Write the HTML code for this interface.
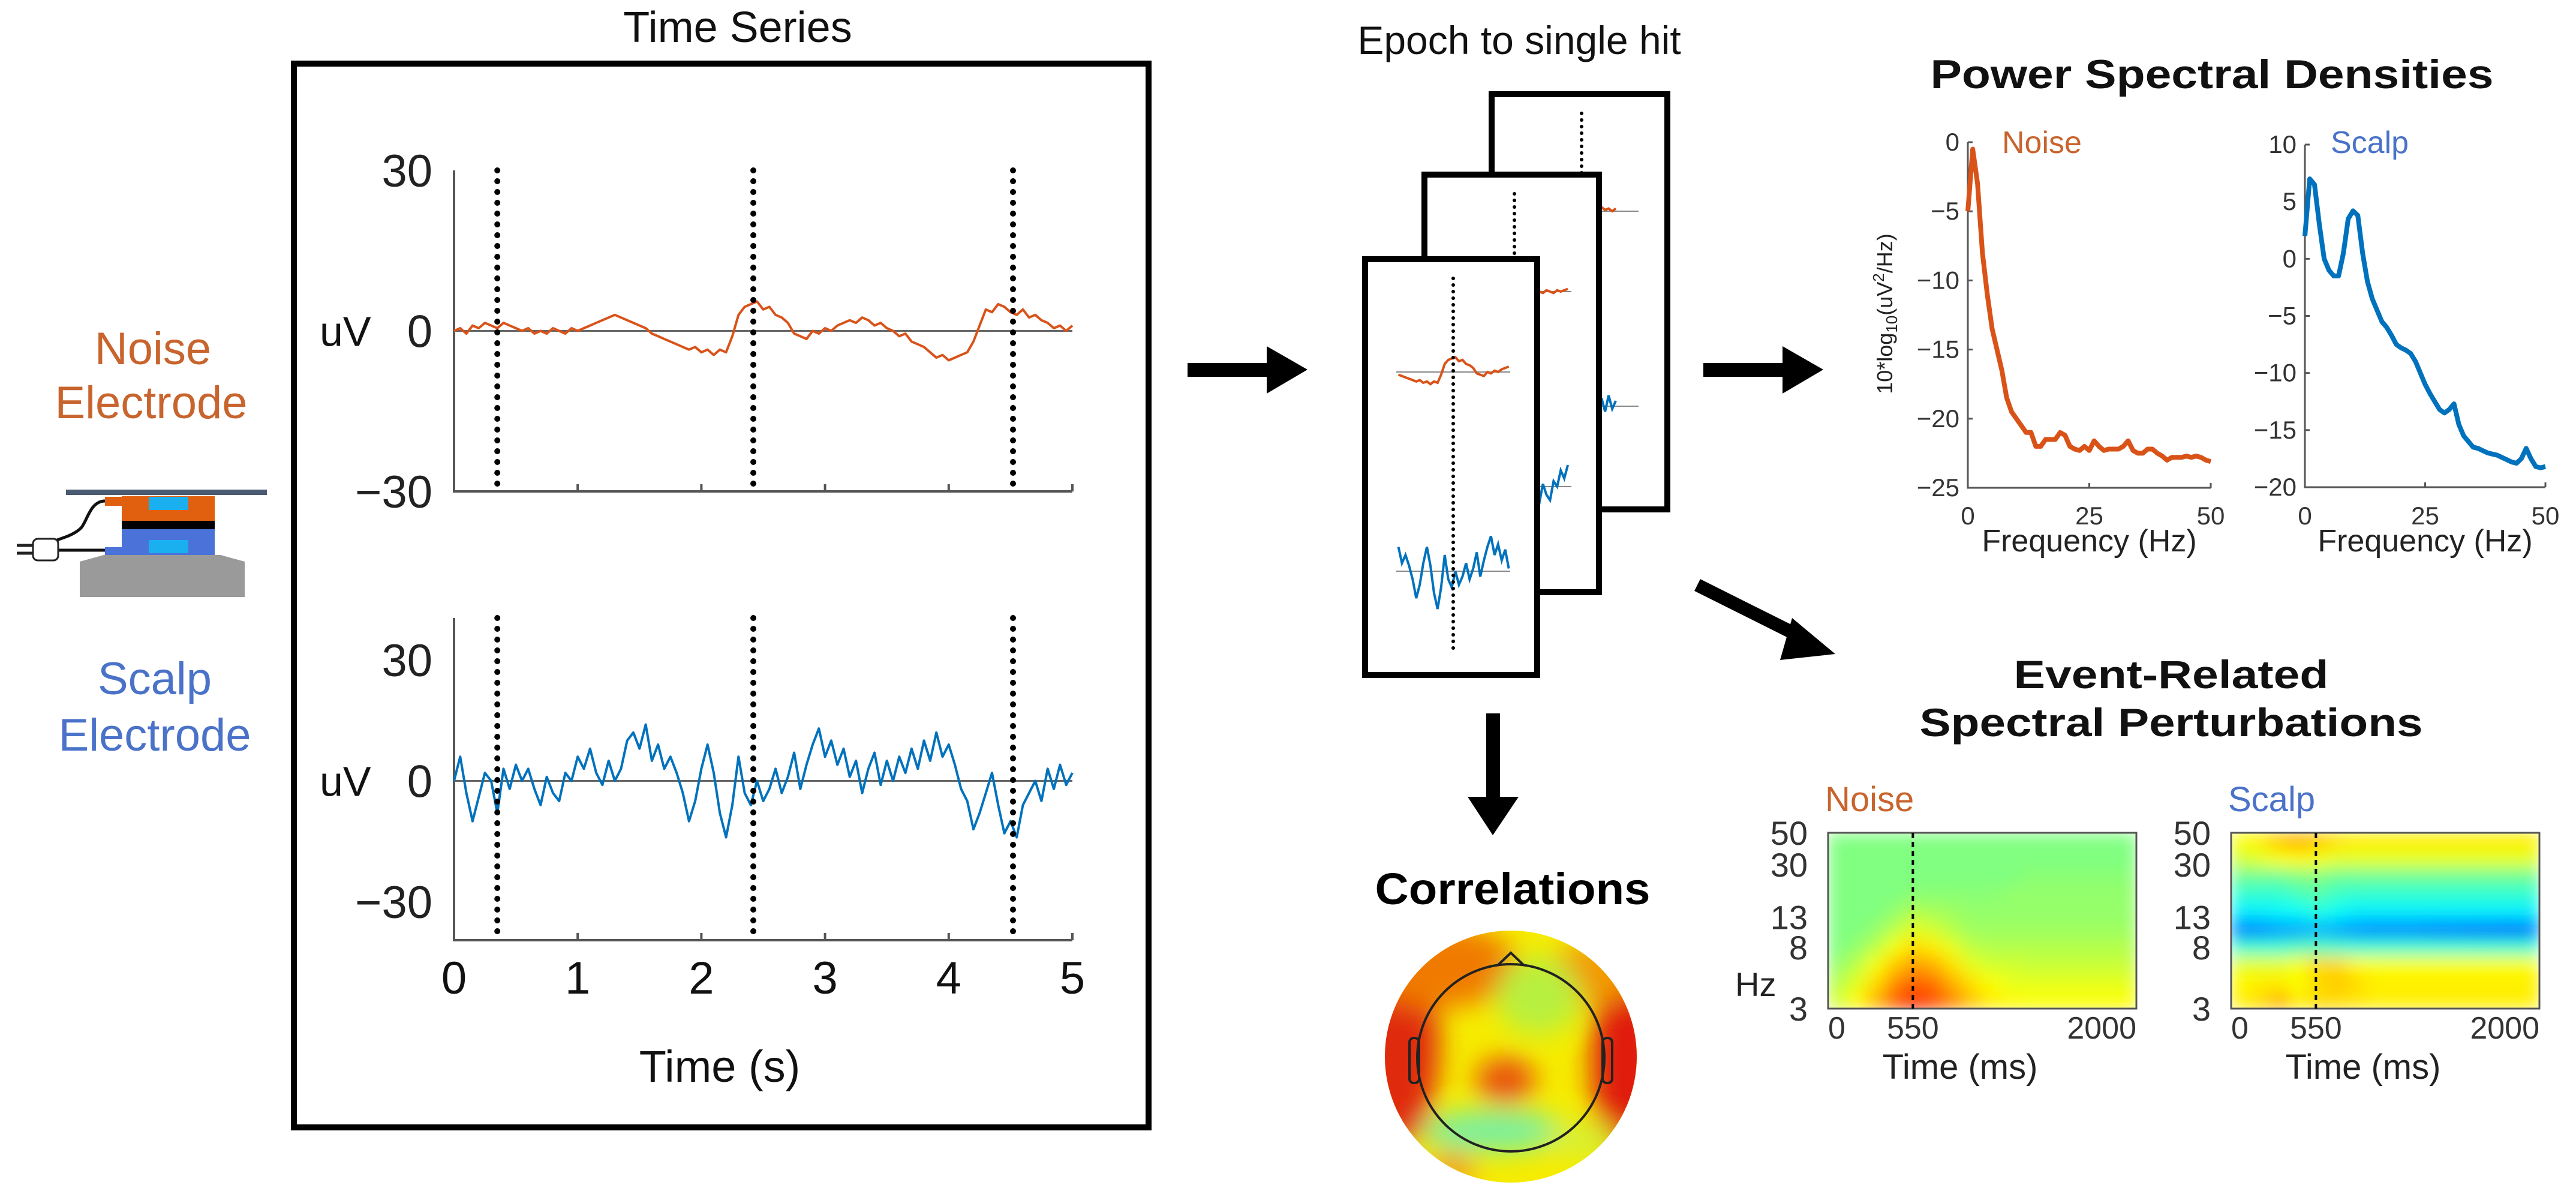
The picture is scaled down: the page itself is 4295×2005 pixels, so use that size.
<!DOCTYPE html>
<html><head><meta charset="utf-8"><title>EEG figure</title>
<style>
html,body{margin:0;padding:0;background:#fff;}
svg{display:block;font-family:"Liberation Sans",Arial,sans-serif;}
</style></head>
<body>
<svg id="fig" xmlns="http://www.w3.org/2000/svg" width="4295" height="2005" viewBox="0 0 4295 2005">
<defs>
  <filter id="blurH" x="-5%" y="-5%" width="110%" height="110%"><feGaussianBlur stdDeviation="14" edgeMode="duplicate"/></filter>
  <filter id="blurT" x="-50%" y="-50%" width="200%" height="200%"><feGaussianBlur stdDeviation="22"/></filter>
  <clipPath id="clipN"><rect x="3048" y="1388" width="514" height="293"/></clipPath>
  <clipPath id="clipS"><rect x="3720" y="1388" width="514" height="293"/></clipPath>
  <clipPath id="clipTopo"><circle cx="2519" cy="1761" r="210"/></clipPath>
</defs>

<g fill="#c8642d" font-size="76" text-anchor="middle">
  <text x="255" y="607">Noise</text>
  <text x="252" y="697">Electrode</text>
</g>
<g fill="#4a72c8" font-size="76" text-anchor="middle">
  <text x="258" y="1157">Scalp</text>
  <text x="258" y="1251">Electrode</text>
</g>

<g>
  <path d="M133 995 L133 936 L173 925 L368 925 L408 936 L408 995 Z" fill="#9a9a9a"/>
  <rect x="203" y="882" width="155" height="43" fill="#4a72d8"/>
  <rect x="175" y="912" width="30" height="13" fill="#4a72d8"/>
  <rect x="248" y="900" width="66" height="22" fill="#1ab0f0"/>
  <rect x="203" y="868" width="155" height="14" fill="#000"/>
  <rect x="203" y="827" width="155" height="41" fill="#e06010"/>
  <rect x="175" y="828" width="30" height="15" fill="#e06010"/>
  <rect x="248" y="828" width="66" height="22" fill="#1ab0f0"/>
  <rect x="110" y="816" width="335" height="9" fill="#4a5a72"/>
  <path d="M175 835 C150 835 145 870 135 880 C125 890 110 895 95 900" stroke="#111" stroke-width="5" fill="none"/>
  <path d="M175 917 L95 917" stroke="#111" stroke-width="5" fill="none"/>
  <rect x="55" y="898" width="42" height="36" rx="8" fill="#fff" stroke="#222" stroke-width="3"/>
  <path d="M55 909 L28 909 M55 922 L28 922" stroke="#222" stroke-width="5"/>
</g>

<text x="1230" y="70" font-size="72" text-anchor="middle" fill="#111">Time Series</text>
<rect x="490" y="106" width="1425" height="1773" fill="none" stroke="#000" stroke-width="10"/>
<g id="ts"></g>

<g>
  <rect x="1980" y="605" width="140" height="23" fill="#000"/>
  <path d="M2112 577 L2180 616 L2112 656 Z" fill="#000"/>
</g>
<g>
  <rect x="2840" y="605" width="140" height="23" fill="#000"/>
  <path d="M2972 577 L3040 616 L2972 656 Z" fill="#000"/>
</g>
<g>
  <line x1="2830" y1="975" x2="3010" y2="1065" stroke="#000" stroke-width="22"/>
  <path d="M2988 1030 L3060 1090 L2968 1100 Z" fill="#000"/>
</g>
<g>
  <rect x="2478" y="1189" width="23" height="145" fill="#000"/>
  <path d="M2447 1328 L2532 1328 L2489 1392 Z" fill="#000"/>
</g>

<text x="2533" y="90" font-size="66" text-anchor="middle" fill="#111">Epoch to single hit</text>
<g id="epochs"></g>

<text x="2522" y="1507" font-size="74" font-weight="bold" text-anchor="middle" fill="#000" textLength="459" lengthAdjust="spacingAndGlyphs">Correlations</text>
<g>
  <g clip-path="url(#clipTopo)">
    <rect x="2300" y="1540" width="440" height="440" fill="#f6ec00"/>
    <g filter="url(#blurT)">
      <ellipse cx="2330" cy="1740" rx="70" ry="170" fill="#e02a08"/>
      <ellipse cx="2712" cy="1770" rx="60" ry="160" fill="#e01a08"/>
      <ellipse cx="2400" cy="1610" rx="130" ry="70" fill="#f07a00"/>
      <ellipse cx="2660" cy="1620" rx="80" ry="50" fill="#f29a00"/>
      <ellipse cx="2565" cy="1660" rx="70" ry="65" fill="#b8f040"/>
      <ellipse cx="2510" cy="1800" rx="50" ry="38" fill="#e85010"/>
      <ellipse cx="2490" cy="1885" rx="120" ry="35" fill="#7af0a0"/>
      <ellipse cx="2420" cy="1950" rx="40" ry="30" fill="#f0a000"/>
      <ellipse cx="2640" cy="1900" rx="60" ry="30" fill="#d8f030"/>
    </g>
  </g>
  <circle cx="2519" cy="1763" r="156" fill="none" stroke="#222" stroke-width="4"/>
  <path d="M2497 1609 L2519 1588 L2541 1609" fill="none" stroke="#222" stroke-width="4"/>
  <rect x="2350" y="1730" width="16" height="75" rx="7" fill="none" stroke="#222" stroke-width="4"/>
  <rect x="2672" y="1730" width="16" height="75" rx="7" fill="none" stroke="#222" stroke-width="4"/>
</g>

<text x="3688" y="147" font-size="68" font-weight="bold" text-anchor="middle" fill="#111" textLength="939" lengthAdjust="spacingAndGlyphs">Power Spectral Densities</text>
<g id="psd"></g>

<g font-size="66" font-weight="bold" text-anchor="middle" fill="#111">
  <text x="3620" y="1147" textLength="525" lengthAdjust="spacingAndGlyphs">Event-Related</text>
  <text x="3620" y="1227" textLength="839" lengthAdjust="spacingAndGlyphs">Spectral Perturbations</text>
</g>
<g id="ersp"></g>

<script>
const tsTimes = [];
const noiseTS = [0,0.5,-0.5,1,0.5,1.5,1,0.5,1.5,1,
 0.5,0,0.5,-0.5,0,-0.5,0.5,0,-0.5,0.5,
 0,0.5,1,1.5,2,2.5,3,2.5,2,1.5,
 1,0.5,-0.5,-1,-1.5,-2,-2.5,-3,-3.5,-3,
 -4,-3.5,-4.5,-3.5,-4,-1,3,4.5,5,5.5,
 4,4.5,3,2.5,1.5,-0.5,-1,-1.5,0,-0.5,
 0.5,0,1,1.5,2,1.5,2.5,2,1,1.5,
 0.5,0,-1,-0.5,-2,-2.5,-3,-4,-5,-4.5,
 -5.5,-5,-4.5,-4,-2,1,4,3.5,5,4.5,
 3.5,3,4,2.5,3,2,1.5,0.5,1,0,1];
const scalpTS = [0,6,-3,-10,-4,2,0,-8,3,-2,
 4,0,3,-2,-6,1,-3,-5,2,0,
 6,3,8,2,-1,5,0,3,10,12,
 8,14,5,9,3,6,2,-3,-10,-5,
 3,9,2,-8,-14,-6,6,-3,-6,0,
 -5,-2,3,-3,1,7,-2,4,9,13,
 6,10,4,8,1,5,-3,3,7,-1,
 5,0,6,2,8,3,10,5,12,6,
 9,4,-2,-5,-12,-8,-3,2,-6,-13,
 -10,-14,-6,-3,0,-5,3,-2,4,-1,2];
const hitTimes = [0.35, 2.42, 4.52];
const tsXTicks = [0,1,2,3,4,5];
const tsYTicks = [30,0,-30];

const psdFreqs = [];
const psdNoise = [-5,-0.5,-3,-8,-11,-13.5,-15,-16.5,-18.5,-19.5,-20,-20.5,-21,-21,-22,-22,-21.5,-21.5,-21.5,-21,-21.2,-22,-22.2,-22.3,-22,-22.3,-21.6,-22,-22.3,-22.2,-22.2,-22.2,-22,-21.6,-22.3,-22.5,-22.5,-22.2,-22.2,-22.5,-22.7,-23,-22.8,-22.8,-22.8,-22.7,-22.8,-22.7,-22.8,-23,-23.1];
const psdScalp = [2,7,6.5,3,0,-1,-1.5,-1.5,0.5,3.5,4.2,3.8,0.5,-2,-3.5,-4.5,-5.5,-6,-6.7,-7.5,-7.8,-8,-8.3,-9,-10,-11,-11.8,-12.5,-13.2,-13.5,-13.2,-12.7,-14.5,-15.5,-16,-16.5,-16.6,-16.8,-17,-17.1,-17.2,-17.4,-17.6,-17.8,-17.9,-17.5,-16.6,-17.5,-18.2,-18.3,-18.2];
const psdNoiseYTicks = [0,-5,-10,-15,-20,-25];
const psdScalpYTicks = [10,5,0,-5,-10,-15,-20];
const psdXTicks = [0,25,50];

const erspYTicks = [50,30,13,8,3];
const erspXTicks = [0,550,2000];
const erspNoise = [
 [0.5,0.5,0.5,0.5,0.5,0.5,0.5,0.5,0.5,0.5,0.5,0.5,0.5,0.5,0.5,0.5],
 [0.5,0.5,0.5,0.5,0.5,0.5,0.5,0.5,0.5,0.5,0.5,0.5,0.5,0.5,0.5,0.5],
 [0.5,0.5,0.5,0.5,0.5,0.5,0.5,0.5,0.5,0.5,0.51,0.51,0.51,0.51,0.51,0.51],
 [0.5,0.5,0.5,0.5,0.51,0.51,0.51,0.51,0.51,0.52,0.52,0.52,0.52,0.52,0.52,0.52],
 [0.5,0.5,0.5,0.52,0.55,0.54,0.53,0.52,0.52,0.52,0.52,0.52,0.52,0.52,0.52,0.52],
 [0.5,0.5,0.52,0.56,0.6,0.58,0.55,0.53,0.53,0.53,0.53,0.53,0.53,0.53,0.53,0.53],
 [0.5,0.52,0.56,0.62,0.66,0.64,0.6,0.56,0.55,0.55,0.55,0.55,0.55,0.55,0.55,0.55],
 [0.52,0.56,0.62,0.68,0.72,0.7,0.65,0.6,0.58,0.58,0.57,0.57,0.57,0.57,0.57,0.57],
 [0.55,0.6,0.66,0.74,0.78,0.76,0.7,0.65,0.62,0.6,0.6,0.6,0.6,0.6,0.6,0.6],
 [0.58,0.63,0.7,0.79,0.83,0.8,0.74,0.68,0.64,0.63,0.62,0.62,0.62,0.62,0.62,0.62]];
const erspScalp = [
 [0.62,0.64,0.68,0.7,0.68,0.65,0.64,0.64,0.64,0.64,0.64,0.64,0.64,0.64,0.64,0.64],
 [0.58,0.6,0.62,0.63,0.62,0.6,0.6,0.6,0.6,0.6,0.6,0.6,0.6,0.6,0.6,0.6],
 [0.48,0.48,0.48,0.5,0.5,0.48,0.48,0.48,0.48,0.48,0.48,0.48,0.48,0.48,0.48,0.48],
 [0.42,0.42,0.42,0.44,0.46,0.43,0.42,0.42,0.42,0.42,0.42,0.42,0.42,0.42,0.42,0.42],
 [0.36,0.36,0.37,0.38,0.4,0.38,0.36,0.36,0.36,0.36,0.36,0.36,0.36,0.36,0.36,0.36],
 [0.24,0.25,0.27,0.28,0.3,0.28,0.26,0.25,0.25,0.25,0.24,0.24,0.23,0.23,0.22,0.23],
 [0.42,0.42,0.42,0.44,0.44,0.43,0.42,0.42,0.42,0.42,0.42,0.42,0.42,0.42,0.42,0.42],
 [0.6,0.6,0.6,0.62,0.66,0.66,0.63,0.62,0.62,0.62,0.62,0.62,0.62,0.62,0.62,0.62],
 [0.63,0.64,0.64,0.62,0.66,0.68,0.66,0.64,0.64,0.64,0.64,0.64,0.64,0.64,0.64,0.64],
 [0.64,0.66,0.7,0.64,0.66,0.66,0.65,0.64,0.64,0.64,0.64,0.64,0.64,0.64,0.64,0.64]];

for (let i = 0; i < noiseTS.length; i++) tsTimes.push(i * 0.05);
for (let i = 0; i < psdNoise.length; i++) psdFreqs.push(i);

const NS = 'http://www.w3.org/2000/svg';
function mk(parent, tag, attrs, text) {
  const el = document.createElementNS(NS, tag);
  for (const k in attrs) el.setAttribute(k, attrs[k]);
  if (text !== undefined) el.textContent = text;
  parent.appendChild(el);
  return el;
}
function lin(d0, d1, r0, r1) { return v => r0 + (v - d0) / (d1 - d0) * (r1 - r0); }
function pathFrom(xs, ys, fx, fy) {
  let d = '';
  for (let i = 0; i < xs.length; i++) d += (i ? 'L' : 'M') + fx(xs[i]).toFixed(1) + ' ' + fy(ys[i]).toFixed(1);
  return d;
}
const ORANGE = '#d95319', BLUE = '#0072bd', AXIS = '#555';

const ts = document.getElementById('ts');
const xT = lin(0, 5, 757, 1788);
const panels = [
  {vals: noiseTS, color: ORANGE, y: lin(-30, 30, 819, 284), top: 284, bot: 819, name: 'noise'},
  {vals: scalpTS, color: BLUE, y: lin(-30, 30, 1503, 1100), top: 1030, bot: 1567, name: 'scalp'}
];
panels.forEach((p, pi) => {
  const g = mk(ts, 'g', {});
  
  
  const ax = mk(g, 'path', {d: `M757 ${p.top} L757 ${p.bot} L1788 ${p.bot}`, stroke: AXIS, 'stroke-width': 4, fill: 'none'});
  
  
  tsXTicks.forEach(t => {
    mk(g, 'line', {x1: xT(t), x2: xT(t), y1: p.bot, y2: p.bot - 12, stroke: AXIS, 'stroke-width': 4});
    if (pi === 1) {
      const lb = mk(g, 'text', {x: xT(t), y: 1656, 'font-size': 76, 'text-anchor': 'middle', fill: '#111'}, String(t));
      
      
    }
  });
  tsYTicks.forEach(v => {
    const lb = mk(g, 'text', {x: 721, y: p.y(v) + 27, 'font-size': 76, 'text-anchor': 'end', fill: '#222'}, v < 0 ? '\u2212' + Math.abs(v) : String(v));
    
    
  });
  const uv = mk(g, 'text', {x: 533, y: p.y(0) + 25, 'font-size': 70, fill: '#111'}, 'uV');
  
  
  mk(g, 'line', {x1: 757, x2: 1788, y1: p.y(0), y2: p.y(0), stroke: '#666', 'stroke-width': 3});
  const ln = mk(g, 'path', {d: pathFrom(tsTimes, p.vals, xT, p.y), stroke: p.color, 'stroke-width': 4, fill: 'none', 'stroke-linejoin': 'round'});
  
  
  hitTimes.forEach(h => {
    const dl = mk(g, 'line', {x1: xT(h), x2: xT(h), y1: p.top, y2: p.bot, stroke: '#000', 'stroke-width': 10, 'stroke-dasharray': '0 18', 'stroke-linecap': 'round'});
    
    
  });
});
const tl = mk(ts, 'text', {x: 1200, y: 1803, 'font-size': 74, 'text-anchor': 'middle', fill: '#111'}, 'Time (s)');



const ep = document.getElementById('epochs');
const boxes = [
  {x: 2487, y: 157, w: 293, h: 692, cx: 2637, oy: 352, by: 677, hit: 2},
  {x: 2375, y: 291, w: 291, h: 696, cx: 2525, oy: 486, by: 811, hit: 0},
  {x: 2276, y: 432, w: 287, h: 693, cx: 2423, oy: 620, by: 952, hit: 1}
];
boxes.forEach((b, bi) => {
  const g = mk(ep, 'g', {});
  
  
  mk(g, 'rect', {x: b.x, y: b.y, width: b.w, height: b.h, fill: '#fff', stroke: '#000', 'stroke-width': 10});
  const h = hitTimes[b.hit];
  const fx = lin(h - 0.8, h + 0.8, b.cx - 95, b.cx + 95);
  const xs = [], on = [], sc = [];
  tsTimes.forEach((t, i) => { if (t >= h - 0.8 && t <= h + 0.8) { xs.push(t); on.push(noiseTS[i]); sc.push(scalpTS[i]); } });
  mk(g, 'line', {x1: b.cx - 95, x2: b.cx + 95, y1: b.oy, y2: b.oy, stroke: '#888', 'stroke-width': 2});
  mk(g, 'line', {x1: b.cx - 95, x2: b.cx + 95, y1: b.by, y2: b.by, stroke: '#888', 'stroke-width': 2});
  const o = mk(g, 'path', {d: pathFrom(xs, on, fx, v => b.oy - v * 4.5), stroke: ORANGE, 'stroke-width': 4, fill: 'none'});
  
  
  const s = mk(g, 'path', {d: pathFrom(xs, sc, fx, v => b.by - v * 4.5), stroke: BLUE, 'stroke-width': 4, fill: 'none'});
  
  
  mk(g, 'line', {x1: b.cx, x2: b.cx, y1: b.y + 32, y2: b.y + b.h - 42, stroke: '#000', 'stroke-width': 6, 'stroke-dasharray': '0 11', 'stroke-linecap': 'round'});
});

const psd = document.getElementById('psd');
const psdPanels = [
  {vals: psdNoise, ticks: psdNoiseYTicks, x0: 3281, x1: 3686, yTop: 237, yBot: 813, d0: -25, d1: 0, color: ORANGE, label: 'Noise', lc: '#c8642d', lx: 3338, name: 'noise'},
  {vals: psdScalp, ticks: psdScalpYTicks, x0: 3843, x1: 4244, yTop: 241, yBot: 812, d0: -20, d1: 10, color: BLUE, label: 'Scalp', lc: '#4a72c8', lx: 3886, name: 'scalp'}
];
psdPanels.forEach(p => {
  const g = mk(psd, 'g', {});
  
  
  const fx = lin(0, 50, p.x0, p.x1), fy = lin(p.d0, p.d1, p.yBot, p.yTop);
  mk(g, 'path', {d: `M${p.x0} ${p.yTop} L${p.x0} ${p.yBot} L${p.x1} ${p.yBot}`, stroke: AXIS, 'stroke-width': 3, fill: 'none'});
  p.ticks.forEach(v => {
    mk(g, 'line', {x1: p.x0, x2: p.x0 + 8, y1: fy(v), y2: fy(v), stroke: AXIS, 'stroke-width': 3});
    const lb = mk(g, 'text', {x: p.x0 - 14, y: fy(v) + 14, 'font-size': 42, 'text-anchor': 'end', fill: '#333'}, v < 0 ? '\u2212' + Math.abs(v) : String(v));
    
    
  });
  psdXTicks.forEach(f => {
    mk(g, 'line', {x1: fx(f), x2: fx(f), y1: p.yBot, y2: p.yBot - 8, stroke: AXIS, 'stroke-width': 3});
    const lb = mk(g, 'text', {x: fx(f), y: 874, 'font-size': 42, 'text-anchor': 'middle', fill: '#333'}, String(f));
    
    
  });
  const ln = mk(g, 'path', {d: pathFrom(psdFreqs, p.vals, fx, fy), stroke: p.color, 'stroke-width': 8, fill: 'none', 'stroke-linejoin': 'round'});
  
  
  const lt = mk(g, 'text', {x: p.lx, y: 255, 'font-size': 52, fill: p.lc}, p.label);
  
  
  const xl = mk(g, 'text', {x: (p.x0 + p.x1) / 2, y: 919, 'font-size': 52, 'text-anchor': 'middle', fill: '#222'}, 'Frequency (Hz)');
  
  
});
const yl = mk(psd, 'text', {x: 3155, y: 523, 'font-size': 36, 'text-anchor': 'middle', fill: '#222', transform: 'rotate(-90 3155 523)'});


mk(yl, 'tspan', {}, '10*log');
mk(yl, 'tspan', {'font-size': 26, dy: 8}, '10');
mk(yl, 'tspan', {dy: -8}, '(uV');
mk(yl, 'tspan', {'font-size': 26, dy: -14}, '2');
mk(yl, 'tspan', {dy: 14}, '/Hz)');

function jet(v) {
  const c = x => Math.round(255 * Math.max(0, Math.min(1, x)));
  return `rgb(${c(1.5 - Math.abs(4 * v - 3))},${c(1.5 - Math.abs(4 * v - 2))},${c(1.5 - Math.abs(4 * v - 1))})`;
}
const ersp = document.getElementById('ersp');
const erspPanels = [
  {grid: erspNoise, x0: 3048, clip: 'clipN', label: 'Noise', lc: '#c8642d', tickX: 3014, name: 'noise'},
  {grid: erspScalp, x0: 3720, clip: 'clipS', label: 'Scalp', lc: '#4a72c8', tickX: 3686, name: 'scalp'}
];
const EY0 = 1388, EH = 293, EW = 514;
const fyLog = f => EY0 + (Math.log(50) - Math.log(f)) / (Math.log(50) - Math.log(3)) * EH;
erspPanels.forEach(p => {
  const g = mk(ersp, 'g', {});
  
  
  const tx = lin(0, 2000, p.x0, p.x0 + EW);
  const cg = mk(g, 'g', {'clip-path': `url(#${p.clip})`});
  const bg = mk(cg, 'g', {filter: 'url(#blurH)'});
  const rows = p.grid.length, cols = p.grid[0].length;
  p.grid.forEach((row, r) => row.forEach((v, c) => {
    const cell = mk(bg, 'rect', {x: p.x0 + c * EW / cols, y: EY0 + r * EH / rows, width: EW / cols + 1, height: EH / rows + 1, fill: jet(v)});
    
    
  }));
  mk(g, 'rect', {x: p.x0, y: EY0, width: EW, height: EH, fill: 'none', stroke: '#555', 'stroke-width': 3});
  mk(g, 'line', {x1: tx(550), x2: tx(550), y1: EY0, y2: EY0 + EH, stroke: '#000', 'stroke-width': 4, 'stroke-dasharray': '9 6'});
  erspYTicks.forEach(f => {
    const lb = mk(g, 'text', {x: p.tickX, y: fyLog(f) + 20, 'font-size': 56, 'text-anchor': 'end', fill: '#333'}, String(f));
    
    
  });
  erspXTicks.forEach((t, i) => {
    const lb = mk(g, 'text', {x: tx(t), y: 1731, 'font-size': 52, 'text-anchor': i === 0 ? 'start' : (i === 2 ? 'end' : 'middle'), fill: '#333'}, String(t));
    
    
  });
  const xl = mk(g, 'text', {x: p.x0 + 220, y: 1798, 'font-size': 58, 'text-anchor': 'middle', fill: '#222'}, 'Time (ms)');
  
  
  const lt = mk(g, 'text', {x: p.x0 - 5, y: 1352, 'font-size': 58, fill: p.lc}, p.label);
  
  
});
const hz = mk(ersp, 'text', {x: 2893, y: 1660, 'font-size': 56, fill: '#222'}, 'Hz');


</script>
</svg>
</body></html>
